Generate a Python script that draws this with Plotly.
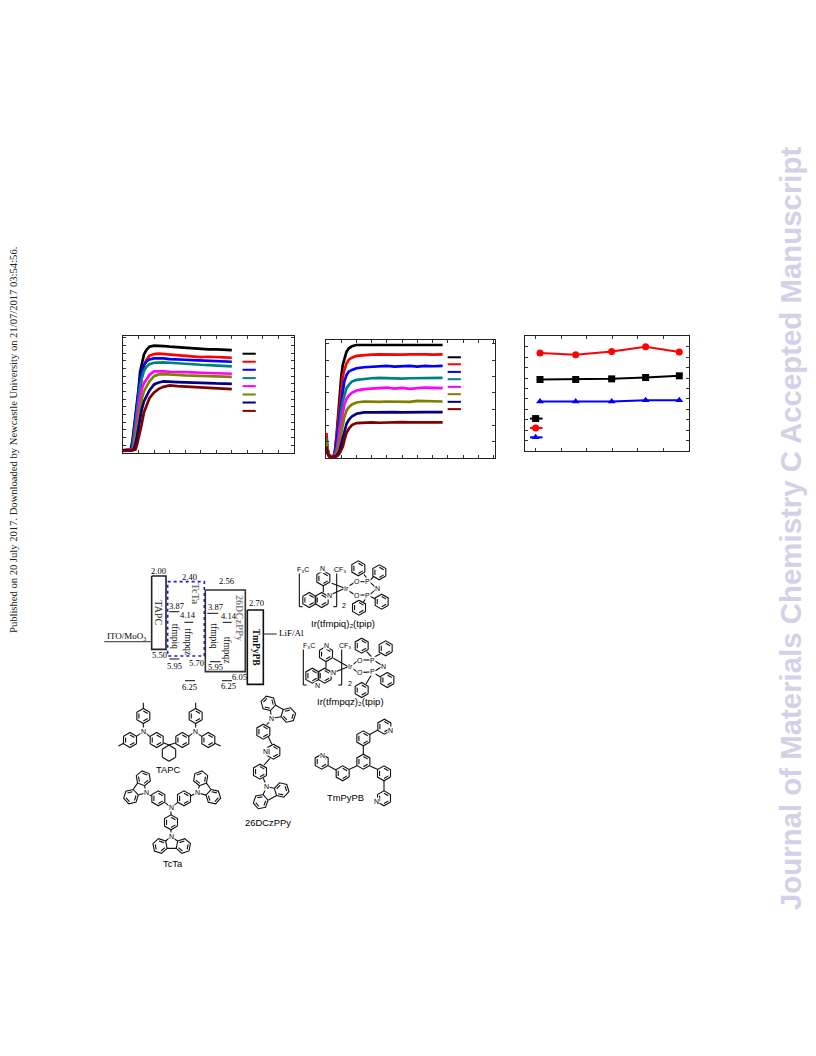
import math
import plotly.graph_objects as go

W, H = 816, 1056
COLORS = ["#000000", "#ff0000", "#0000ff", "#008080", "#ff00ff", "#808000", "#000080", "#800000"]

# Panel 1
t1 = [0,0.2,0.4,0.5,0.6,0.7,0.8,0.9,1.0,1.1,1.2,1.35,1.5,1.7,2,2.3,2.6,3,3.5,4,4.5,5,5.5,6,6.5,7]
a_black = [8,8,10,12,34,72,110,147,190,243,266,295,308,318,321,321,320,318,316,315,313,312,310,310,309,308]
a_red = [8,8,9,10,12,28,65,110,155,195,225,262,278,291,296,297,296,295,292,290,289,287,288,286,286,285]
a_blue = [8,8,8,9,22,65,105,155,190,224,240,263,273,280,283,284,283,281,281,279,278,277,276,275,274,273]
a_teal = [8,8,8,9,14,45,88,125,170,200,222,246,257,266,270,271,271,270,268,267,265,264,263,261,260,259]
a_mag = [8,8,8,8,10,24,65,105,142,168,190,210,219,234,244,245,244,243,243,241,241,240,239,238,238,237]
a_olive = [8,8,8,8,9,19,45,75,108,135,160,185,198,214,230,235,236,236,234,232,231,230,230,229,229,228]
a_navy = [8,8,8,8,9,12,26,48,75,102,129,155,168,187,205,211,214,214,212,211,211,210,209,208,208,207]
a_maroon = [6,6,6,7,8,9,10,24,42,62,85,122,142,164,181,192,198,202,200,199,197,196,195,193,192,191]
series1 = [a_black, a_red, a_blue, a_teal, a_mag, a_olive, a_navy, a_maroon]
key1_x = [7.69, 8.54]
key1_y = [297, 273, 249, 224, 200, 175, 151, 126]

# Panel 2
t2 = [0.03,0.1,0.2,0.3,0.4,0.5,0.6,0.7,0.8,0.9,1.0,1.1,1.2,1.35,1.5,1.7,2,2.5,3,3.5,4,4.5,5,5.5,6,6.5,7,7.66]
b_black = [40,20,8,5,4,6,25,70,130,190,244,280,300,320,330,336,340,340,341,340,340,341,340,339,341,340,341,340]
b_red = [75,30,10,5,4,6,22,65,118,165,204,245,264,285,296,302,307,310,311,312,311,312,311,312,313,312,311,312]
b_blue = [50,22,8,4,3,5,12,45,85,125,164,205,230,250,260,265,270,273,275,276,277,275,277,277,275,277,276,277]
b_teal = [60,25,8,4,3,4,10,28,60,105,140,170,190,210,220,230,235,238,240,241,240,241,239,240,240,241,240,241]
b_mag = [45,20,7,4,3,4,8,18,40,80,110,138,160,178,188,196,203,207,208,210,212,209,211,208,210,212,211,210]
b_olive = [50,20,7,3,3,4,6,12,28,44,75,104,122,143,153,161,167,170,169,169,170,170,170,169,172,171,170,170]
b_navy = [30,15,6,3,3,3,5,8,14,24,42,64,83,103,115,125,133,137,137,138,138,138,137,138,139,138,138,138]
b_maroon = [35,15,5,2,2,2,3,5,8,15,25,34,52,76,88,99,105,107,107,106,107,107,108,107,107,107,106,107]
series2 = [b_black, b_red, b_blue, b_teal, b_mag, b_olive, b_navy, b_maroon]
key2_x = [7.99, 8.86]
key2_y = [303, 282, 259, 237, 214, 192, 169, 147]

# Panel 3
t3 = [0.17, 1.57, 2.98, 4.31, 5.63]
c_black = [6.86, 6.86, 6.92, 7.05, 7.21]
c_red = [9.39, 9.23, 9.55, 10.0, 9.49]
c_blue = [4.74, 4.74, 4.74, 4.87, 4.87]
series3 = [(c_black, "#000000", "square"), (c_red, "#ff0000", "circle"), (c_blue, "#0000ff", "triangle-up")]
key3_x = [-0.22, 0.0, 0.27]
key3_y = [3.11, 2.21, 1.31]

fig = go.Figure()


def panel(idx, box, xr, yr, ydtick, xdtick=1, mirror_w=1.4):
    l, t, r, b = box
    ax = dict(showgrid=False, zeroline=False, showline=True, linecolor="#222", linewidth=mirror_w,
              mirror="allticks", ticks="inside", ticklen=2.5, tickwidth=1, tickcolor="#333",
              showticklabels=False)
    fig.update_layout(**{
        f"xaxis{idx}": dict(ax, domain=[l / W, r / W], range=xr, dtick=xdtick, tick0=0, anchor=f"y{idx}"),
        f"yaxis{idx}": dict(ax, domain=[1 - b / H, 1 - t / H], range=yr, dtick=ydtick, tick0=0, anchor=f"x{idx}"),
    })


panel(1, (123, 336, 294, 453), [0, 11], [0, 350], 23)
panel(2, (326, 340, 495, 458), [0, 11.1], [0, 355], 49)
panel(3, (525, 336, 689, 451), [-0.417, 6.01], [0, 11.03], 1)

for ys, c in zip(series1, COLORS):
    fig.add_trace(go.Scatter(x=t1, y=ys, mode="lines", line=dict(color=c, width=2.7), xaxis="x", yaxis="y", showlegend=False))
for yk, c in zip(key1_y, COLORS):
    fig.add_trace(go.Scatter(x=key1_x, y=[yk, yk], mode="lines", line=dict(color=c, width=2), xaxis="x", yaxis="y", showlegend=False))
for ys, c in zip(series2, COLORS):
    fig.add_trace(go.Scatter(x=t2, y=ys, mode="lines", line=dict(color=c, width=2.7), xaxis="x2", yaxis="y2", showlegend=False))
for yk, c in zip(key2_y, COLORS):
    fig.add_trace(go.Scatter(x=key2_x, y=[yk, yk], mode="lines", line=dict(color=c, width=2), xaxis="x2", yaxis="y2", showlegend=False))
for (ys, c, sym), yk in zip(series3, key3_y):
    fig.add_trace(go.Scatter(x=t3, y=ys, mode="lines+markers", line=dict(color=c, width=2),
                             marker=dict(color=c, symbol=sym, size=7), xaxis="x3", yaxis="y3", showlegend=False))
    fig.add_trace(go.Scatter(x=key3_x, y=[yk] * 3, mode="lines", line=dict(color=c, width=2), xaxis="x3", yaxis="y3", showlegend=False))
    fig.add_trace(go.Scatter(x=key3_x[1:2], y=[yk], mode="markers", marker=dict(color=c, symbol=sym, size=7), xaxis="x3", yaxis="y3", showlegend=False))

# Page overlay axes in page units for the schematic artwork
fig.update_layout(
    xaxis4=dict(domain=[0, 1], range=[0, W], visible=False, anchor="y4"),
    yaxis4=dict(domain=[0, 1], range=[H, 0], visible=False, anchor="x4"),
)


def draw(xs, ys, color="#000", width=1.0, dash="solid"):
    fig.add_trace(go.Scatter(x=xs, y=ys, mode="lines", line=dict(color=color, width=width, dash=dash),
                             xaxis="x4", yaxis="y4", showlegend=False, hoverinfo="skip"))


def label(x, y, text, size=9, font="Liberation Serif", color="#000", angle=0, bold=False, bg=None):
    if bold:
        text = f"<b>{text}</b>"
    fig.add_annotation(x=x, y=y, xref="x4", yref="y4", text=text, showarrow=False, textangle=angle,
                       font=dict(family=font, size=size, color=color), xanchor="center", yanchor="middle",
                       bgcolor=bg, borderpad=0)


# Energy diagram (crop coordinates, origin 100,560)
def ez(v):
    return 100 + v / 3


def ey(v):
    return 560 + v / 3


def rect(l, t, r, b, color, width, dash="solid"):
    draw([ez(l), ez(r), ez(r), ez(l), ez(l)], [ey(t), ey(t), ey(b), ey(b), ey(t)], color, width, dash)


rect(155, 48, 198, 268, "#222", 1.6)
rect(203, 65, 313, 288, "#1a1ad0", 1.6, "dot")
rect(316, 90, 436, 335, "#333", 1.6)
rect(442, 150, 490, 373, "#111", 1.6)
levels = [(13, 155, 245, "#555"), (490, 530, 222, "#333"), (208, 238, 155, "#222"), (253, 280, 187, "#222"),
          (322, 355, 160, "#222"), (368, 395, 187, "#222"), (208, 238, 297, "#222"), (255, 285, 362, "#222"),
          (330, 362, 305, "#222"), (366, 396, 362, "#222")]
for a, b, y, c in levels:
    draw([ez(a), ez(b)], [ey(y), ey(y)], c, 1.1)
for tx, zx, zy in [("2.00", 176, 32), ("2.40", 267, 50), ("2.56", 380, 63), ("2.70", 468, 130), ("5.50", 178, 285),
                   ("5.95", 222, 318), ("5.70", 290, 308), ("5.95", 346, 320), ("6.05", 418, 350), ("6.25", 267, 382),
                   ("6.25", 385, 377), ("3.87", 228, 138), ("4.14", 265, 165), ("3.87", 345, 140), ("4.14", 388, 167)]:
    label(ez(zx), ey(zy), tx, size=8.5)
for tx, zx, zy, c, s, bold in [("TAPC", 177, 157, "#222", 10, False), ("TcTa", 288, 100, "#777", 10, True),
                               ("26DCzPPy", 418, 175, "#888", 10, True), ("TmPyPB", 467, 262, "#111", 9.5, True),
                               ("tfmpiq", 225, 230, "#111", 9.5, False), ("tfmpqz", 265, 245, "#111", 9.5, False),
                               ("tfmpiq", 343, 230, "#111", 9.5, False), ("tfmpqz", 382, 270, "#111", 9.5, False)]:
    label(ez(zx), ey(zy), tx, size=s, color=c, angle=90, bold=bold)
label(ez(80), ey(228), "ITO/MoO₃", size=9)
label(ez(575), ey(218), "LiF/Al", size=9)

R = 7.5


# Molecular sketches
def ring(cx, cy, r=R, rot=0.0):
    xs, ys = [], []
    for i in range(7):
        ang = math.radians(30 + 60 * i + rot)
        xs.append(cx + r * math.cos(ang))
        ys.append(cy + r * math.sin(ang))
    xs.append(None)
    ys.append(None)
    for i in (0, 2, 4):
        a1, a2 = math.radians(30 + 60 * i + rot), math.radians(90 + 60 * i + rot)
        xs += [cx + 0.68 * r * math.cos(a1), cx + 0.68 * r * math.cos(a2), None]
        ys += [cy + 0.68 * r * math.sin(a1), cy + 0.68 * r * math.sin(a2), None]
    return xs, ys


def carbazole(c1, c2, n, ox, oy, r=R):
    """Two benzene rings fused to a five-membered ring that carries the N atom."""
    p1 = (ox + c1[0] / 3, oy + c1[1] / 3)
    p2 = (ox + c2[0] / 3, oy + c2[1] / 3)
    pn = (ox + n[0] / 3, oy + n[1] / 3)
    mid = ((p1[0] + p2[0]) / 2, (p1[1] + p2[1]) / 2)
    pc = (mid[0] * 0.75 + pn[0] * 0.25, mid[1] * 0.75 + pn[1] * 0.25)
    xs, ys, near, far = [], [], [], []
    for c in (p1, p2):
        deg = math.degrees(math.atan2(pc[1] - c[1], pc[0] - c[0]))
        a, b = ring(c[0], c[1], r, deg)
        xs += a
        ys += b
        vs = [(c[0] + r * math.cos(math.radians(deg + s)), c[1] + r * math.sin(math.radians(deg + s))) for s in (-30, 30)]
        vs.sort(key=lambda v: math.hypot(v[0] - pn[0], v[1] - pn[1]))
        near.append(vs[0])
        far.append(vs[1])
    for v in near:
        xs += [pn[0], v[0], None]
        ys += [pn[1], v[1], None]
    xs += [far[0][0], far[1][0], None]
    ys += [far[0][1], far[1][1], None]
    return xs, ys


def molecule(rings, bonds, ox, oy, r=R, rot=0.0, cbz=()):
    xs, ys = [], []
    for zx, zy in rings:
        a, b = ring(ox + zx / 3, oy + zy / 3, r, rot)
        xs += a
        ys += b
    for c1, c2, n in cbz:
        a, b = carbazole(c1, c2, n, ox, oy, r)
        xs += a
        ys += b
    for (x0, y0), (x1, y1) in bonds:
        xs += [ox + x0 / 3, ox + x1 / 3, None]
        ys += [oy + y0 / 3, oy + y1 / 3, None]
    draw(xs, ys, "#111", 1.1)


L = (100, 690)
molecule([(130, 78), (90, 150), (170, 150), (247, 150), (287, 78), (325, 150)],
         [((130, 38), (130, 56)), ((287, 38), (287, 56)), ((55, 168), (71, 160)), ((362, 168), (344, 160)),
          ((130, 100), (130, 118)), ((287, 100), (287, 118)), ((108, 140), (122, 130)), ((150, 140), (138, 130)),
          ((265, 140), (278, 130)), ((306, 140), (292, 130)), ((190, 158), (207, 165)), ((228, 158), (207, 165)),
          ((207, 165), (227, 178)), ((227, 178), (227, 202)), ((227, 202), (207, 214)), ((207, 214), (187, 202)),
          ((187, 202), (187, 178)), ((187, 178), (207, 165))], *L)
molecule([(175, 325), (252, 325), (213, 397)],
         [((145, 314), (155, 318)), ((283, 312), (272, 318)), ((213, 352), (195, 338)), ((213, 352), (233, 338)),
          ((213, 360), (213, 375)), ((213, 418), (213, 433))], *L,
         cbz=[((130, 265), (93, 320), (138, 308)), ((302, 265), (340, 320), (292, 308)), ((180, 468), (250, 468), (213, 440))])
molecule([(490, 125), (520, 185), (480, 245)],
         [((512, 92), (500, 104)), ((505, 140), (515, 162)), ((510, 205), (492, 225)), ((490, 265), (497, 282))], *L,
         cbz=[((505, 40), (565, 75), (515, 85)), ((545, 300), (482, 335), (500, 290))])
molecule([(790, 215), (790, 145), (728, 250), (852, 250), (853, 110), (665, 215), (852, 325)],
         [((790, 166), (790, 193)), ((770, 228), (748, 238)), ((810, 228), (832, 238)), ((808, 134), (833, 120)),
          ((708, 240), (685, 227)), ((852, 272), (852, 303))], *L)

for tx, zx, zy in [("N", 130, 125), ("N", 285, 125), ("N", 138, 308), ("N", 292, 308), ("N", 213, 352), ("N", 213, 440),
                   ("N", 515, 85), ("N", 497, 185), ("N", 500, 290), ("N", 870, 122), ("N", 668, 195), ("N", 830, 335)]:
    label(L[0] + zx / 3, L[1] + zy / 3, tx, size=7, font="Liberation Sans", bg="white")
for tx, zx, zy in [("TAPC", 205, 238), ("TcTa", 218, 520), ("26DCzPPy", 503, 398), ("TmPyPB", 737, 322)]:
    label(L[0] + zx / 3, L[1] + zy / 3, tx, size=9.4, font="Liberation Sans")

C = (290, 555)
molecule([(100, 70), (58, 135), (95, 135), (205, 40), (268, 52), (207, 158), (275, 140)],
         [((100, 92), (100, 112)), ((115, 122), (165, 100)), ((125, 85), (165, 100)), ((165, 100), (195, 82)),
          ((165, 100), (195, 120)), ((207, 80), (225, 80)), ((207, 120), (225, 120)), ((240, 82), (258, 98)),
          ((240, 118), (258, 103)), ((232, 72), (222, 58)), ((240, 76), (250, 66)), ((228, 128), (220, 142)),
          ((240, 124), (256, 132)), ((28, 45), (28, 155)), ((28, 45), (38, 45)), ((28, 155), (38, 155)),
          ((140, 45), (140, 155)), ((140, 45), (130, 45)), ((140, 155), (130, 155))], *C)
molecule([(108, 297), (67, 362), (104, 362), (215, 272), (287, 280), (215, 405), (292, 375)],
         [((108, 318), (108, 340)), ((125, 355), (175, 335)), ((130, 310), (175, 335)), ((185, 332), (203, 317)),
          ((185, 338), (203, 352)), ((218, 315), (240, 315)), ((218, 352), (240, 351)), ((255, 318), (274, 330)),
          ((255, 348), (274, 336)), ((245, 306), (230, 290)), ((253, 306), (270, 297)), ((244, 360), (228, 387)),
          ((255, 356), (272, 366)), ((40, 280), (40, 390)), ((40, 280), (50, 280)), ((40, 390), (50, 390)),
          ((155, 280), (155, 390)), ((155, 280), (145, 280)), ((155, 390), (145, 390))], *C)
for tx, zx, zy in [("F₃C", 40, 42), ("N", 97, 40), ("CF₃", 150, 42), ("Ir", 168, 100), ("O", 200, 80),
                   ("P", 232, 80), ("N", 262, 100), ("O", 200, 120), ("P", 232, 120), ("N", 117, 122), ("2", 163, 150),
                   ("F₃C", 58, 272), ("N", 110, 270), ("CF₃", 165, 272), ("Ir", 180, 335),
                   ("O", 210, 315), ("P", 248, 315), ("N", 280, 333), ("O", 210, 352), ("P", 248, 350),
                   ("N", 130, 353), ("N", 83, 392), ("2", 180, 385)]:
    label(C[0] + zx / 3, C[1] + zy / 3, tx, size=7, font="Liberation Sans", bg="white")
label(C[0] + 158 / 3, C[1] + 205 / 3, "Ir(tfmpiq)₂(tpip)", size=9.6, font="Liberation Sans")
label(C[0] + 180 / 3, C[1] + 440 / 3, "Ir(tfmpqz)₂(tpip)", size=9.6, font="Liberation Sans")

# Page margin texts
label(790, 529, "Journal of Materials Chemistry C Accepted Manuscript", size=29.4, font="Liberation Sans",
      color="#d2d1e8", angle=-90, bold=True)
label(13, 440, "Published on 20 July 2017. Downloaded by Newcastle University on 21/07/2017 03:54:56.", size=10.6,
      color="#222", angle=-90)

fig.update_layout(width=W, height=H, margin=dict(l=0, r=0, t=0, b=0), paper_bgcolor="white", plot_bgcolor="rgba(0,0,0,0)",
                  showlegend=False, autosize=False)
fig.write_html("out.html", config={"displayModeBar": False},
               post_script="document.body.style.margin='0';document.documentElement.style.overflow='hidden';")
